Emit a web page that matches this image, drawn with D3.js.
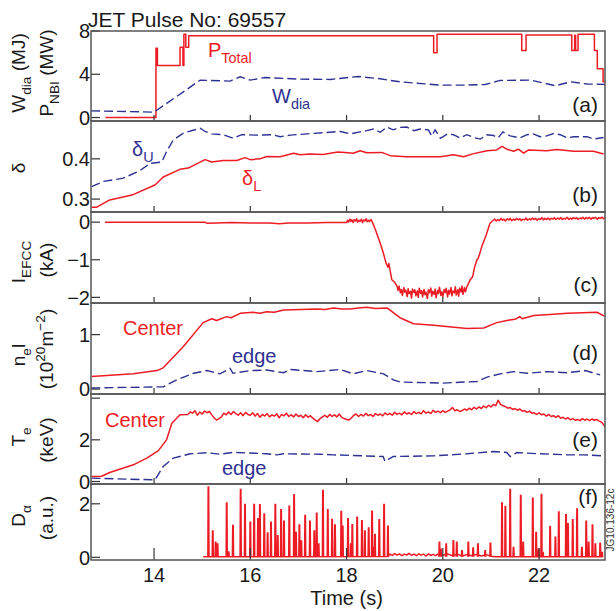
<!DOCTYPE html>
<html><head><meta charset="utf-8">
<script src="https://cdn.jsdelivr.net/npm/d3@7"></script>
<style>
body{margin:0;background:#fff;}
svg{display:block;font-family:"Liberation Sans",Arial,Helvetica,sans-serif;}
</style></head><body>
<svg id="chart" width="616" height="611"></svg>
<script>
const RED = '#ed1c24', BLUE = '#2e3192', INK = '#1a1a1a';

// (a) heating power (step) and stored energy
const pTotal = [[12.99,0],[14.04,6.4],[14.07,4.8],[14.54,6.5],[14.6,4.8],[14.62,7.7],[14.66,6.5],[14.72,7.55],[19.81,6.0],[19.88,7.7],[21.64,6.2],[21.73,7.63],[22.68,6.2],[22.74,7.6],[22.76,6.2],[22.81,7.7],[23.15,6.2],[23.21,4.5],[23.33,3.3],[23.37,3.3]];
const wDia = [[12.69,0.62],[14.0,0.5],[14.96,3.46],[15.58,3.37],[15.79,3.77],[16.0,3.46],[16.31,3.7],[17.04,3.55],[17.66,3.52],[18.24,3.8],[18.7,3.58],[19.11,3.3],[19.95,3.0],[20.5,3.0],[20.88,3.05],[21.19,3.43],[21.82,3.46],[22.34,2.94],[22.65,3.3],[23.0,3.1],[23.37,3.07]];

// (b) triangularity
const deltaL = [[12.70,0.28],[12.81,0.28],[13.08,0.298],[13.54,0.31],[14.02,0.335],[14.19,0.355],[14.54,0.374],[14.71,0.377],[15.06,0.398],[15.20,0.392],[15.44,0.396],[15.72,0.396],[15.89,0.403],[16.0,0.398],[16.20,0.40],[16.34,0.406],[16.62,0.405],[16.90,0.414],[17.04,0.41],[17.24,0.412],[17.51,0.411],[17.82,0.417],[18.03,0.415],[18.14,0.414],[18.28,0.42],[18.42,0.415],[18.73,0.416],[18.91,0.408],[19.25,0.405],[19.95,0.405],[20.22,0.41],[20.43,0.405],[20.64,0.413],[20.92,0.42],[21.12,0.422],[21.23,0.431],[21.33,0.424],[21.47,0.419],[21.57,0.424],[21.68,0.414],[21.78,0.422],[22.16,0.42],[22.37,0.423],[22.72,0.419],[23.13,0.419],[23.34,0.412]];
const deltaU = [[12.70,0.331],[12.95,0.344],[13.36,0.352],[13.71,0.371],[13.92,0.389],[14.16,0.392],[14.26,0.418],[14.40,0.447],[14.61,0.464],[14.96,0.476],[15.06,0.468],[15.2,0.462],[15.44,0.460],[15.65,0.451],[15.82,0.46],[16.13,0.459],[16.45,0.46],[16.62,0.455],[16.83,0.459],[17.17,0.462],[17.52,0.465],[17.87,0.468],[18.08,0.462],[18.28,0.467],[18.42,0.47],[18.56,0.474],[18.70,0.466],[18.84,0.479],[18.97,0.472],[19.1,0.478],[19.25,0.479],[19.4,0.47],[19.53,0.474],[19.70,0.472],[19.77,0.457],[19.84,0.472],[19.95,0.451],[20.1,0.462],[20.22,0.46],[20.36,0.452],[20.50,0.46],[20.64,0.453],[20.78,0.449],[20.92,0.46],[21.05,0.458],[21.15,0.452],[21.25,0.467],[21.40,0.457],[21.60,0.452],[21.75,0.46],[21.88,0.462],[22.02,0.455],[22.16,0.457],[22.30,0.463],[22.44,0.46],[22.58,0.452],[22.72,0.455],[23.0,0.455],[23.13,0.449],[23.34,0.453]];

// (c) error field correction coil current
const iEfcc = [[12.98,0.0],[14.5,0.0],[15.06,0.0],[15.1,-0.03],[15.3,-0.02],[15.6,-0.01],[16.0,-0.02],[16.4,-0.02],[16.6,-0.04],[16.8,-0.02],[17.2,-0.02],[17.6,-0.01],[18.0,-0.01],
  [18.02,0.05],[18.04,0.0],[18.07,0.08],[18.09,0.02],[18.11,0.06],[18.14,-0.01],[18.16,0.07],[18.19,0.03],[18.21,0.09],[18.23,0.0],[18.26,0.05],[18.28,0.02],[18.31,0.08],[18.33,-0.01],[18.36,0.06],[18.38,0.03],[18.41,0.09],[18.43,0.01],[18.46,0.05],[18.48,0.02],[18.51,0.07],[18.53,0.02],
  [18.60,-0.2],[18.70,-0.56],[18.76,-0.8],[18.82,-1.09],[18.86,-1.2],[18.88,-1.1],[18.94,-1.53],[19.0,-1.6],[19.05,-1.71],
  [19.07,-1.82],[19.09,-1.70],[19.12,-1.88],[19.14,-1.79],[19.16,-1.95],[19.19,-1.74],[19.21,-1.86],[19.23,-1.81],[19.26,-1.98],[19.28,-1.77],[19.30,-1.90],[19.33,-1.84],[19.35,-2.02],[19.37,-1.78],[19.40,-1.87],[19.42,-1.80],[19.44,-1.96],[19.47,-1.83],[19.49,-2.0],[19.51,-1.76],[19.54,-1.89],[19.56,-1.82],[19.58,-1.99],[19.61,-1.79],[19.63,-1.93],[19.65,-1.86],[19.68,-2.03],[19.70,-1.80],[19.72,-1.88],[19.75,-1.75],[19.77,-1.97],[19.79,-1.84],[19.82,-1.92],[19.84,-1.78],[19.86,-2.01],[19.89,-1.82],[19.91,-1.90],[19.93,-1.73],[19.96,-1.95],[19.98,-1.85],[20.00,-1.98],[20.03,-1.79],[20.05,-1.87],[20.07,-1.76],[20.10,-1.99],[20.12,-1.81],[20.14,-1.91],[20.17,-1.74],[20.19,-1.96],[20.21,-1.83],[20.24,-1.88],[20.26,-1.72],[20.28,-1.94],[20.31,-1.80],[20.33,-1.97],[20.35,-1.75],[20.38,-1.86],[20.40,-1.70],[20.42,-1.92],[20.45,-1.74],[20.47,-1.85],[20.50,-1.72],
  [20.57,-1.53],[20.62,-1.45],[20.66,-1.2],[20.71,-1.0],[20.74,-0.95],[20.81,-0.65],[20.9,-0.35],[20.98,-0.03],[21.05,0.05],
  [21.08,0.08],[21.11,0.03],[21.14,0.07],[21.17,0.04],[21.21,0.1],[21.24,0.05],[21.27,0.08],[21.30,0.03],[21.34,0.09],[21.37,0.06],[21.40,0.1],[21.43,0.04],[21.47,0.08],[21.50,0.05],[21.53,0.1],[21.57,0.06],[21.60,0.09],[21.63,0.04],[21.66,0.08],[21.70,0.06],[21.73,0.11],[21.76,0.05],[21.80,0.09],[21.83,0.06],[21.86,0.11],[21.89,0.07],[21.93,0.1],[21.96,0.05],[21.99,0.09],[22.03,0.07],[22.06,0.12],[22.09,0.06],[22.12,0.1],[22.16,0.07],[22.19,0.11],[22.22,0.06],[22.25,0.1],[22.29,0.08],[22.32,0.12],[22.35,0.07],[22.39,0.11],[22.42,0.08],[22.45,0.12],[22.48,0.07],[22.52,0.1],[22.55,0.08],[22.58,0.13],[22.62,0.07],[22.65,0.11],[22.68,0.08],[22.71,0.12],[22.75,0.09],[22.78,0.12],[22.81,0.07],[22.85,0.11],[22.88,0.09],[22.91,0.13],[22.94,0.08],[22.98,0.12],[23.01,0.09],[23.04,0.13],[23.08,0.08],[23.11,0.12],[23.14,0.1],[23.17,0.13],[23.21,0.08],[23.24,0.12],[23.27,0.1],[23.31,0.13],[23.34,0.09],[23.37,0.12]];

// (d) line-integrated density
const neCenter = [[12.70,0.23],[13.57,0.28],[14.06,0.34],[14.19,0.39],[14.61,0.78],[15.02,1.22],[15.20,1.29],[15.30,1.26],[15.51,1.33],[15.6,1.31],[15.79,1.39],[16.06,1.41],[16.2,1.39],[16.34,1.42],[16.5,1.41],[16.69,1.45],[17.04,1.46],[17.38,1.47],[17.55,1.46],[17.73,1.49],[17.9,1.47],[18.07,1.47],[18.25,1.49],[18.42,1.50],[18.6,1.48],[18.84,1.49],[19.11,1.31],[19.39,1.2],[19.81,1.17],[20.50,1.11],[20.85,1.12],[21.12,1.22],[21.33,1.26],[21.5,1.28],[21.6,1.33],[21.65,1.29],[21.89,1.35],[22.23,1.37],[22.58,1.39],[22.9,1.40],[23.20,1.41],[23.36,1.34]];
const neEdge = [[12.70,0.02],[14.06,0.04],[14.19,0.04],[14.47,0.17],[14.82,0.29],[15.10,0.34],[15.37,0.28],[15.58,0.38],[15.64,0.29],[16.0,0.34],[16.34,0.35],[16.69,0.30],[16.83,0.36],[17.38,0.32],[17.87,0.36],[18.14,0.28],[18.42,0.34],[18.77,0.28],[18.97,0.17],[19.11,0.13],[20.0,0.11],[20.71,0.14],[20.92,0.22],[21.19,0.28],[21.47,0.32],[21.75,0.29],[22.16,0.32],[22.58,0.30],[22.96,0.34],[23.27,0.26]];

// (e) electron temperature
const teCenter = [[12.70,0.24],[12.91,0.25],[13.08,0.43],[13.57,0.8],[13.85,1.12],[14.09,1.48],[14.26,2.0],[14.37,2.8],[14.54,3.2],
  [14.7,3.22],[14.75,3.34],[14.8,3.28],[14.85,3.40],[14.9,3.18],[14.95,3.33],[15.0,3.24],[15.05,3.38],[15.1,3.30],[15.15,3.36],[15.2,3.20],[15.25,3.05],[15.3,2.95],[15.35,3.02],[15.4,3.10],[15.45,3.28],[15.5,3.20],[15.55,3.34],[15.6,3.22],[15.65,3.36],[15.7,3.26],[15.75,3.18],[15.8,3.30],[15.85,3.16],[15.9,3.32],[15.95,3.22],[16.0,3.18],[16.05,3.30],[16.1,3.14],[16.15,3.26],[16.2,3.08],[16.25,3.22],[16.3,3.14],[16.35,3.26],[16.4,3.10],[16.45,3.20],[16.5,3.14],[16.55,3.25],[16.6,3.06],[16.65,3.22],[16.7,3.15],[16.75,3.28],[16.8,3.12],[16.85,3.20],[16.9,3.10],[16.95,3.24],[17.0,3.12],[17.05,3.18],[17.1,3.06],[17.15,3.20],[17.2,3.08],[17.25,3.16],[17.3,3.04],[17.35,2.95],[17.4,2.88],[17.45,3.02],[17.5,3.10],[17.55,3.18],[17.6,3.08],[17.65,3.22],[17.7,3.12],[17.75,3.20],[17.8,3.10],[17.85,3.24],[17.9,3.08],[17.95,3.02],[18.0,2.98],[18.05,2.95],[18.1,3.05],[18.15,3.18],[18.2,3.24],[18.25,3.12],[18.3,3.22],[18.35,3.14],[18.4,3.27],[18.45,3.16],[18.5,3.22],[18.55,3.12],[18.6,3.26],[18.65,3.18],[18.7,3.24],[18.75,3.15],[18.8,3.29],[18.85,3.20],[18.9,3.27],[18.95,3.18],[19.0,3.32],[19.05,3.22],[19.1,3.28],[19.15,3.20],[19.2,3.34],[19.25,3.24],[19.3,3.30],[19.35,3.22],[19.4,3.36],[19.45,3.26],[19.5,3.32],[19.55,3.25],[19.6,3.40],[19.65,3.28],[19.7,3.34],[19.75,3.26],[19.8,3.42],[19.85,3.32],[19.9,3.38],[19.95,3.30],[20.0,3.40],[20.05,3.32],[20.1,3.38],[20.15,3.44],[20.2,3.55],[20.25,3.40],[20.3,3.44],[20.35,3.36],[20.4,3.40],[20.45,3.48],[20.5,3.42],[20.55,3.52],[20.6,3.44],[20.65,3.56],[20.7,3.48],[20.75,3.58],[20.8,3.50],[20.85,3.62],[20.9,3.54],[20.95,3.66],[21.0,3.58],[21.05,3.70],[21.1,3.64],[21.15,3.90],[21.2,3.70],[21.25,3.64],[21.3,3.60],[21.35,3.52],[21.4,3.55],[21.45,3.46],[21.5,3.50],[21.55,3.42],[21.6,3.48],[21.65,3.38],[21.7,3.40],[21.75,3.32],[21.8,3.38],[21.85,3.28],[21.9,3.30],[21.95,3.22],[22.0,3.30],[22.05,3.20],[22.1,3.24],[22.15,3.14],[22.2,3.22],[22.25,3.12],[22.3,3.16],[22.35,3.08],[22.4,3.16],[22.45,3.04],[22.5,3.08],[22.55,3.00],[22.6,3.06],[22.65,2.96],[22.7,3.02],[22.75,2.94],[22.8,2.98],[22.85,2.92],[22.9,3.02],[22.95,2.94],[23.0,3.00],[23.05,2.92],[23.1,3.00],[23.15,2.94],[23.2,2.98],[23.25,2.90],[23.3,2.85],[23.37,2.64]];
const teEdge = [[12.70,0.16],[14.02,0.08],[14.19,0.72],[14.40,1.12],[14.75,1.33],[15.10,1.38],[15.37,1.31],[15.65,1.40],[16.34,1.33],[16.55,1.28],[16.69,1.33],[17.45,1.31],[17.72,1.28],[18.76,1.20],[18.80,0.96],[18.97,1.20],[19.80,1.23],[20.50,1.33],[21.05,1.44],[21.33,1.39],[21.40,1.20],[21.54,1.39],[22.02,1.33],[22.58,1.28],[22.92,1.28],[23.36,1.23]];

// (f) D-alpha: ELM spikes and the quiet baseline
const spikeT = [15.13,15.22,15.28,15.32,15.51,15.55,15.64,15.80,15.89,16.00,16.08,16.16,16.20,16.29,16.36,16.43,16.52,16.57,16.64,16.70,16.81,16.91,16.95,17.02,17.06,17.14,17.24,17.33,17.38,17.42,17.51,17.61,17.70,17.76,17.89,17.92,18.03,18.09,18.12,18.22,18.32,18.38,18.46,18.53,18.56,18.59,18.68,18.78,18.86,
  19.93,19.96,20.07,20.22,20.29,20.40,20.53,20.63,20.73,20.88,20.99,21.23,21.30,21.40,21.47,21.62,21.67,21.87,21.94,21.99,22.05,22.08,22.23,22.34,22.41,22.56,22.60,22.70,22.79,22.89,22.98,23.03,23.11,23.17,23.27,23.31];
const spikeH = [2.63,0.98,0.56,0.5,2.03,0.2,1.19,2.53,1.97,1.31,1.97,1.44,1.96,1.62,0.91,1.31,1.97,0.81,1.78,1.35,1.91,2.34,0.93,1.21,0.61,1.56,1.35,0.98,1.65,0.5,2.5,1.78,1.41,1.21,1.71,1.16,1.44,0.5,1.22,1.5,1.37,0.98,1.1,1.72,0.37,0.85,1.4,1.97,1.16,
  0.56,0.3,0.5,0.62,0.56,0.25,0.56,0.35,0.5,0.25,0.53,2.03,1.9,2.53,0.37,2.31,0.56,2.21,0.93,0.3,2.35,0.18,1.15,0.75,1.69,1.59,1.25,1.4,1.81,0.37,1.35,0.56,1.21,0.5,0.53,0.18];
const dAlphaBase = [[15.02,0.02],[18.86,0.03],[18.9,0.12],[18.95,0.07],[19.0,0.14],[19.05,0.08],[19.1,0.13],[19.15,0.06],[19.2,0.12],[19.25,0.08],[19.3,0.15],[19.35,0.07],[19.4,0.12],[19.45,0.06],[19.5,0.13],[19.55,0.08],[19.6,0.12],[19.65,0.05],[19.7,0.13],[19.75,0.07],[19.8,0.11],[19.85,0.06],[19.9,0.12],[20.0,0.08],[20.1,0.13],[20.2,0.06],[20.3,0.12],[20.4,0.05],[20.5,0.1],[20.6,0.06],[20.7,0.11],[20.8,0.05],[20.9,0.1],[21.0,0.04],[21.1,0.02],[23.33,0.02]];

const timeTicks = [14,16,18,20,22];

const svg = d3.select('#chart');
const x = d3.scaleLinear().domain([12.69, 23.37]).range([91, 605]);

const panels = [
  {id:'a', top:31,  bottom:121, domain:[-0.32,8],    ticks:[0,4,8],    labels:[0,4,8], fmt:d3.format('d'),   tag:[598,112]},
  {id:'b', top:121, bottom:212, domain:[0.268,0.494], ticks:[0.3,0.4], labels:[0.3,0.4], fmt:d3.format('.1f'), tag:[598,202]},
  {id:'c', top:212, bottom:303, domain:[-2.15,0.27],  ticks:[-2,-1,0], labels:[-2,-1,0], fmt:d=>d<0?'\u2212'+(-d):''+d, tag:[598,292]},
  {id:'d', top:303, bottom:394, domain:[-0.09,1.58],  ticks:[0,1],     labels:[0,1],   fmt:d3.format('d'), tag:[598,360]},
  {id:'e', top:394, bottom:484, domain:[-0.12,4.2],   ticks:[0,2,4],   labels:[0,2],   fmt:d3.format('d'), tag:[598,447]},
  {id:'f', top:484, bottom:560, domain:[-0.1,2.74],   ticks:[0,2],     labels:[0,2],   fmt:d3.format('d'), tag:[598,504]}
];
panels.forEach(p => p.y = d3.scaleLinear().domain(p.domain).range([p.bottom, p.top]));
const P = Object.fromEntries(panels.map(p => [p.id, p]));

function line(p, curve){
  const l = d3.line().x(d => x(d[0])).y(d => p.y(d[1]));
  if (curve) l.curve(curve);
  return l;
}
function solid(p, data, curve){
  svg.append('path').attr('d', line(p, curve)(data)).attr('fill','none')
    .attr('stroke', RED).attr('stroke-width', 1.5).attr('stroke-linejoin','round');
}
function dashed(p, data){
  svg.append('path').attr('d', line(p)(data)).attr('fill','none')
    .attr('stroke', BLUE).attr('stroke-width', 1.4).attr('stroke-dasharray','9,4');
}

// data
solid(P.a, pTotal, d3.curveStepAfter);
dashed(P.a, wDia);
dashed(P.b, deltaU);
solid(P.b, deltaL);
solid(P.c, iEfcc);
dashed(P.d, neEdge);
solid(P.d, neCenter);
dashed(P.e, teEdge);
solid(P.e, teCenter);
solid(P.f, dAlphaBase);
const spikeLine = line(P.f);
svg.append('path')
  .attr('d', spikeT.map((t,i) => spikeLine([[t-0.012,0.02],[t-0.005,spikeH[i]],[t+0.005,spikeH[i]],[t+0.012,0.02]])).join(''))
  .attr('fill','none').attr('stroke', RED).attr('stroke-width', 1.5);

// frames, ticks, panel tags
panels.forEach(p => {
  const g = svg.append('g');
  p.ticks.forEach(v => g.append('line').attr('x1', x.range()[0]).attr('x2', x.range()[0] + 9)
    .attr('y1', p.y(v)).attr('y2', p.y(v)).attr('stroke', '#333').attr('stroke-width', 1.2));
  p.labels.forEach(v => g.append('text').attr('x', 90).attr('y', p.y(v)).attr('dy','0.36em')
    .attr('text-anchor','end').attr('font-size', 20).attr('fill', INK).text(p.fmt(v)));
  const tl = p.id === 'f' ? 12 : 6;
  timeTicks.forEach(t => g.append('line').attr('x1', x(t)).attr('x2', x(t))
    .attr('y1', p.bottom).attr('y2', p.bottom - tl).attr('stroke', '#333').attr('stroke-width', 1.2));
  g.append('rect').attr('x', x.range()[0]).attr('y', p.top)
    .attr('width', x.range()[1] - x.range()[0]).attr('height', p.bottom - p.top)
    .attr('fill','none').attr('stroke', '#555').attr('stroke-width', 1.5);
  g.append('text').attr('x', p.tag[0]).attr('y', p.tag[1]).attr('text-anchor','end')
    .attr('font-size', 21).attr('fill', INK).text('(' + p.id + ')');
});

// time axis
svg.append('g').selectAll('text').data(timeTicks).join('text')
  .attr('x', d => x(d)).attr('y', 582).attr('text-anchor','middle')
  .attr('font-size', 20).attr('fill', INK).text(d => d);
svg.append('text').attr('x', x(18)).attr('y', 605).attr('text-anchor','middle')
  .attr('font-size', 20).attr('fill', INK).text('Time (s)');

svg.append('text').attr('x', 88).attr('y', 27).attr('font-size', 21).attr('fill', INK)
  .text('JET Pulse No: 69557');

// rich text helper: parts = [[str, 'n'|'sub'|'sup'], ...]
function rich(sel, parts, size){
  let off = 0;
  parts.forEach(([s, k]) => {
    const target = k === 'sub' ? size*0.32 : k === 'sup' ? -size*0.4 : 0;
    sel.append('tspan').attr('dy', target - off)
      .attr('font-size', k === 'n' ? size : size*0.72).text(s);
    off = target;
  });
  return sel;
}
function ylab(xb, yc, parts, size){
  const t = svg.append('text').attr('transform', `translate(${xb},${yc}) rotate(-90)`)
    .attr('text-anchor','middle').attr('fill', INK).attr('font-size', size);
  rich(t, parts, size);
}
ylab(25, 73, [['W','n'],['dia','sub'],[' (MJ)','n']], 19);
ylab(53, 73, [['P','n'],['NBI','sub'],[' (MW)','n']], 19);
ylab(25, 168, [['\u03b4','n']], 19);
ylab(25, 262, [['I','n'],['EFCC','sub']], 19);
ylab(53, 260, [['(kA)','n']], 19);
ylab(25, 355, [['n','n'],['e','sub'],['l','n']], 19);
ylab(53, 349, [['(10','n'],['20','sup'],['m','n'],['\u22122','sup'],[')','n']], 19);
ylab(25, 437, [['T','n'],['e','sub']], 19);
ylab(53, 440, [['(keV)','n']], 19);
ylab(25, 516, [['D','n'],['\u03b1','sub']], 19);
ylab(53, 518, [['(a.u.)','n']], 19);

// in-plot labels
function tag(xp, yp, parts, color){
  const t = svg.append('text').attr('x', xp).attr('y', yp).attr('fill', color).attr('font-size', 20);
  rich(t, parts, 20);
}
tag(208, 57, [['P','n'],['Total','sub']], RED);
tag(272, 103, [['W','n'],['dia','sub']], BLUE);
tag(132, 156, [['\u03b4','n'],['U','sub']], BLUE);
tag(242, 185, [['\u03b4','n'],['L','sub']], RED);
tag(123, 335, [['Center','n']], RED);
tag(232, 363, [['edge','n']], BLUE);
tag(105, 427, [['Center','n']], RED);
tag(222, 475, [['edge','n']], BLUE);

svg.append('text').attr('transform','translate(614,520) rotate(-90)').attr('text-anchor','middle')
  .attr('font-size', 10).attr('fill', '#333').text('JG10.136-12c');
</script>
</body></html>
